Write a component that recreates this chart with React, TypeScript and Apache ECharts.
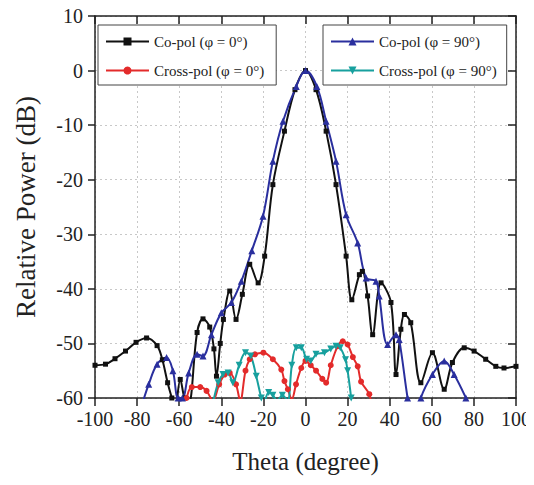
import React, { useEffect, useRef } from "react";
import * as echarts from "echarts";

// Theta (degree) and Relative Power (dB)
const coPol0Theta = [-100, -95, -90.5, -85.5, -80.5, -75.5, -70.5, -68, -65.5, -63.5, -62, -59.5, -57.5, -55.5, -51.5, -48.7, -45.5, -43.5, -42.3, -40.5, -39, -36, -33, -30, -26.5, -22.5, -19.4, -15.5, -10, -5, 0, 5, 9.8, 14.5, 19.3, 22, 25.6, 27, 29.5, 31.9, 35.9, 40.6, 43, 45.3, 47, 50, 54.8, 60.3, 65.9, 69.8, 75.4, 80.1, 85.6, 90.4, 94.3, 100];
const coPol0Db = [-54, -53.8, -52.8, -51.4, -49.8, -49, -50.4, -53, -57.2, -60, -62, -56.6, -60, -61, -48, -45.5, -47, -51, -56, -50, -45.6, -40.4, -45.6, -41, -35.5, -38.9, -34, -20.9, -11.1, -3.5, 0, -3.5, -11.1, -20.9, -34, -42, -37.4, -36.8, -41.3, -48.4, -38.9, -42.5, -55.7, -47.4, -44.7, -46.2, -57.2, -51.7, -58.4, -53.5, -50.8, -51.4, -52.9, -54.2, -54.5, -54.2];

const crossPol0Theta = [-57.5, -56.5, -54, -50, -47, -44, -41, -38.4, -36, -33, -31, -28.5, -26.5, -24, -20, -15.5, -11.5, -10, -8.4, -6.5, -4.5, -2, 0, 2.5, 5, 8, 9.8, 12, 15.3, 17.7, 20, 22.5, 24.8, 26.4, 30.3, 31.5];
const crossPol0Db = [-62, -60, -58, -58, -58.7, -60.5, -57.5, -55.7, -55.4, -57.5, -60.5, -55, -52.9, -52, -51.7, -52.9, -54.8, -56.9, -58.4, -60.2, -57.5, -54.5, -53.2, -54, -55, -56.5, -57.2, -54, -50.5, -49.6, -50.2, -52.5, -54.2, -57, -59.3, -62];

const coPol90Theta = [-77.5, -74.5, -70.5, -66, -63, -60.5, -58.5, -55.5, -51.5, -48.7, -44.7, -40, -35.2, -30.5, -25.5, -20.2, -15.5, -10.7, -4.4, 0, 5.4, 9.8, 14.5, 19.3, 24.8, 28.8, 33.5, 35, 39, 43, 44.5, 48.5, 51.5, 54.8, 60.3, 65.9, 70.6, 76.2, 77];
const coPol90Db = [-61, -57.5, -53.8, -52.6, -55, -60, -60, -55.4, -52, -52.3, -48.4, -44.4, -42.5, -38.6, -33, -26.7, -16.6, -9.3, -2.9, 0, -2.9, -9.3, -16.6, -26.4, -31.6, -38, -38.6, -41.3, -50.2, -48.4, -49.3, -60, -66, -60, -55.7, -53.2, -55.7, -60, -61];

const crossPol90Theta = [-44, -41.5, -39.2, -36.8, -34.5, -31.5, -28.5, -26, -23.4, -21, -20, -17.5, -15.5, -13.5, -11, -8.5, -6.5, -4.4, -2, 0.5, 2.5, 5, 9, 12, 14.5, 16.5, 19, 20, 21.7, 22.2];
const crossPol90Db = [-61, -57.2, -55.7, -55.4, -57.2, -54, -51.7, -52.3, -56, -60, -61, -59, -59.5, -60.5, -59.5, -60.5, -54, -50.8, -50.8, -52.9, -53.2, -52, -51.7, -51, -50.5, -50.8, -53, -55, -60, -62];

const seriesNames = ["Co-pol (φ = 0°)", "Cross-pol (φ = 0°)", "Co-pol (φ = 90°)", "Cross-pol (φ = 90°)"];
const xTicks = { min: -100, max: 100, interval: 20 };
const yTicks = { min: -60, max: 10, interval: 10 };

const pairs = (xs: number[], ys: number[]) => xs.map((x, i) => [x, ys[i]]);

const FONT = "'Liberation Serif', 'Times New Roman', serif";

export default function App() {
  const ref = useRef<HTMLDivElement>(null);
  useEffect(() => {
    if (!ref.current) return;
    const chart = echarts.init(ref.current, undefined, { renderer: "svg" });
    const baseX = {
      type: "value" as const,
      min: xTicks.min,
      max: xTicks.max,
      interval: xTicks.interval,
    };
    const baseY = {
      type: "value" as const,
      min: yTicks.min,
      max: yTicks.max,
      interval: yTicks.interval,
    };
    const legendCommon = {
      orient: "vertical" as const,
      borderColor: "#444",
      borderWidth: 1,
      borderRadius: 0,
      itemWidth: 43,
      itemHeight: 10,
      itemGap: 14,
      textStyle: { fontFamily: FONT, fontSize: 15, color: "#222" },
      backgroundColor: "#fff",
    };
    const mkSeries = (name: string, data: number[][], color: string, symbol: string, size: number, rotate = 0) => ({
      name,
      type: "line" as const,
      data,
      smooth: 0.35,
      clip: true,
      symbol,
      symbolSize: size,
      symbolRotate: rotate,
      showAllSymbol: true,
      lineStyle: { color, width: 2 },
      itemStyle: { color },
      xAxisIndex: 0,
      yAxisIndex: 0,
    });
    chart.setOption({
      animation: false,
      backgroundColor: "#fff",
      textStyle: { fontFamily: FONT },
      grid: { left: 95, right: 16, top: 16, bottom: 87 },
      legend: [
        {
          ...legendCommon,
          left: 98,
          top: 25,
          padding: [9, 12, 7, 7],
          data: [seriesNames[0], seriesNames[1]],
        },
        {
          ...legendCommon,
          left: 323,
          top: 25,
          padding: [9, 10, 7, 7],
          data: [seriesNames[2], seriesNames[3]],
        },
      ],
      xAxis: [
        {
          ...baseX,
          position: "bottom",
          name: "Theta (degree)",
          nameLocation: "middle",
          nameGap: 51,
          nameTextStyle: { fontFamily: FONT, fontSize: 25, color: "#222" },
          axisLine: { show: true, onZero: false, lineStyle: { color: "#222", width: 1.5 } },
          axisTick: { show: true, inside: false, length: 8, lineStyle: { color: "#222", width: 1.5 } },
          axisLabel: { fontFamily: FONT, fontSize: 20, color: "#222", margin: 11 },
          splitLine: { show: true, lineStyle: { color: "#c8c8c8", type: [2, 3], width: 1 } },
        },
        {
          ...baseX,
          position: "top",
          axisLine: { show: true, onZero: false, lineStyle: { color: "#222", width: 1.5 } },
          axisTick: { show: true, inside: true, length: 8, lineStyle: { color: "#222", width: 1.5 } },
          axisLabel: { show: false },
          splitLine: { show: false },
        },
      ],
      yAxis: [
        {
          ...baseY,
          position: "left",
          name: "Relative Power (dB)",
          nameLocation: "middle",
          nameGap: 56,
          nameTextStyle: { fontFamily: FONT, fontSize: 27, color: "#222" },
          axisLine: { show: true, onZero: false, lineStyle: { color: "#222", width: 1.5 } },
          axisTick: { show: true, inside: false, length: 7, lineStyle: { color: "#222", width: 1.5 } },
          axisLabel: { fontFamily: FONT, fontSize: 20, color: "#222", margin: 12 },
          splitLine: { show: true, lineStyle: { color: "#c8c8c8", type: [2, 3], width: 1 } },
        },
        {
          ...baseY,
          position: "right",
          axisLine: { show: true, onZero: false, lineStyle: { color: "#222", width: 1.5 } },
          axisTick: { show: true, inside: true, length: 8, lineStyle: { color: "#222", width: 1.5 } },
          axisLabel: { show: false },
          splitLine: { show: false },
        },
      ],
      series: [
        mkSeries(seriesNames[0], pairs(coPol0Theta, coPol0Db), "#111111", "rect", 5),
        mkSeries(seriesNames[1], pairs(crossPol0Theta, crossPol0Db), "#e32b2b", "circle", 6),
        mkSeries(seriesNames[2], pairs(coPol90Theta, coPol90Db), "#2a2f9e", "triangle", 7),
        mkSeries(seriesNames[3], pairs(crossPol90Theta, crossPol90Db), "#17a09e", "triangle", 7, 180),
      ],
    });
    return () => chart.dispose();
  }, []);
  return <div ref={ref} style={{ width: 534, height: 485, marginLeft: -8, marginTop: -8 }} />;
}
